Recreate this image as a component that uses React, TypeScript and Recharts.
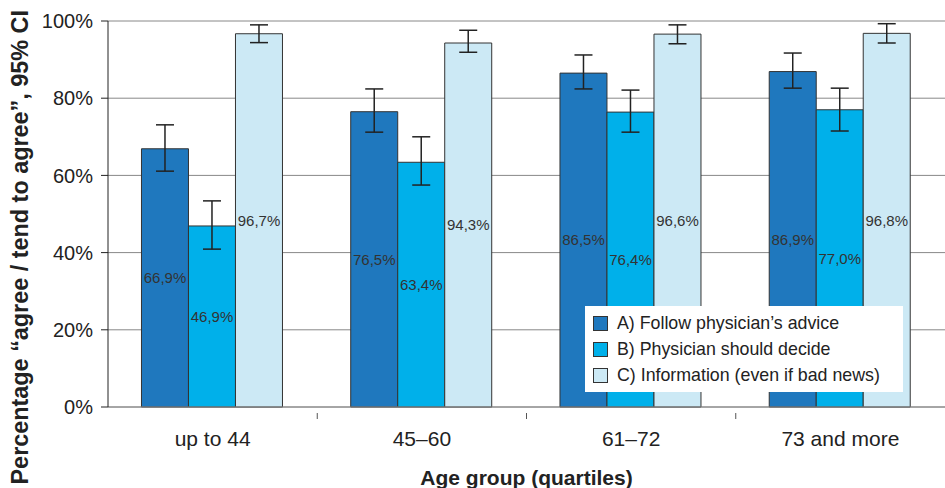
import {
  BarChart,
  Bar,
  XAxis,
  YAxis,
  CartesianGrid,
  ErrorBar,
  LabelList
} from 'recharts'

const categories = ['up to 44', '45–60', '61–72', '73 and more']

const followAdvice = [66.9, 76.5, 86.5, 86.9]
const followAdviceCI = [[5.8, 6.2], [5.3, 5.9], [4.1, 4.7], [4.3, 4.8]]

const physicianDecide = [46.9, 63.4, 76.4, 77.0]
const physicianDecideCI = [[6.0, 6.5], [5.9, 6.6], [5.2, 5.7], [5.5, 5.6]]

const information = [96.7, 94.3, 96.6, 96.8]
const informationCI = [[2.3, 2.3], [2.4, 3.3], [2.5, 2.4], [2.5, 2.5]]

const seriesNames = [
  'A) Follow physician’s advice',
  'B) Physician should decide',
  'C) Information (even if bad news)'
]
const COLORS = ['#1f78be', '#00b0ea', '#cce9f5']

const yTicks = [0, 20, 40, 60, 80, 100]

const data = categories.map((name, i) => ({
  name,
  a: followAdvice[i],
  aErr: followAdviceCI[i],
  b: physicianDecide[i],
  bErr: physicianDecideCI[i],
  c: information[i],
  cErr: informationCI[i]
}))

// values are printed with a decimal comma, as in the source
const formatPct = (v: number) => `${v.toFixed(1).replace('.', ',')}%`

const FONT = 'Arial, "Liberation Sans", sans-serif'

// legend sits inside the plot, so draw it as an overlay instead of <Legend>
const LegendBox = () => (
  <div
    style={{
      position: 'absolute',
      left: 585,
      top: 306,
      width: 318,
      height: 86,
      boxSizing: 'border-box',
      background: '#fff',
      padding: '4px 0 0 8px',
      fontFamily: FONT,
      fontSize: 17.8,
      color: '#222',
      lineHeight: '26px'
    }}
  >
    {seriesNames.map((n, i) => (
      <div key={n} style={{ display: 'flex', alignItems: 'center', whiteSpace: 'nowrap' }}>
        <span
          style={{
            display: 'inline-block',
            width: 13,
            height: 13,
            background: COLORS[i],
            border: '1px solid #333',
            marginRight: 9
          }}
        />
        {n}
      </div>
    ))}
  </div>
)

const YLabel = () => (
  <text
    x={20}
    y={10}
    transform="rotate(-90, 20, 10)"
    textAnchor="end"
    dominantBaseline="central"
    fontFamily={FONT}
    fontWeight="bold"
    fontSize={23.4}
    fill="#222"
  >
    Percentage “agree / tend to agree”, 95% CI
  </text>
)

// category label plus a short tick mark on the boundary to the next group
const CategoryTick = (props: any) => {
  const { x, y, payload } = props
  const last = payload.index === categories.length - 1
  return (
    <g>
      {!last && (
        <line
          x1={x + payload.offset}
          x2={x + payload.offset}
          y1={y - 20}
          y2={y - 14}
          stroke="#555"
        />
      )}
      <text
        x={x}
        y={y}
        dy={13}
        textAnchor="middle"
        fill="#222"
        fontSize={21}
        fontFamily={FONT}
      >
        {payload.value}
      </text>
    </g>
  )
}

export default function App() {
  const bars = [
    { key: 'a', err: 'aErr' },
    { key: 'b', err: 'bErr' },
    { key: 'c', err: 'cErr' }
  ]
  return (
    <div style={{ position: 'absolute', left: 0, top: 0, width: 945, height: 488, background: '#fff', overflow: 'hidden' }}>
      <BarChart
        width={945}
        height={488}
        data={data}
        margin={{ top: 21, right: 0, bottom: 0, left: 0 }}
        barGap={0}
        barCategoryGap="16%"
      >
        <CartesianGrid vertical={false} stroke="#888" strokeWidth={1} />
        <XAxis
          dataKey="name"
          height={81}
          axisLine={{ stroke: '#888' }}
          tickLine={false}
          tickMargin={20}
          tick={<CategoryTick />}
          label={{
            value: 'Age group (quartiles)',
            position: 'insideBottom',
            offset: 3,
            fill: '#222',
            fontSize: 21,
            fontWeight: 'bold',
            fontFamily: FONT
          }}
        />
        <YAxis
          width={108}
          domain={[0, 100]}
          ticks={yTicks}
          tickFormatter={(v: number) => `${v}%`}
          axisLine={{ stroke: '#222' }}
          tickLine={{ stroke: '#222' }}
          tickSize={7}
          tickMargin={8}
          tick={{ fill: '#222', fontSize: 20, fontFamily: FONT }}
          label={<YLabel />}
        />
        {bars.map((s, i) => (
          <Bar
            key={s.key}
            dataKey={s.key}
            name={seriesNames[i]}
            fill={COLORS[i]}
            stroke="#333"
            strokeWidth={1}
            isAnimationActive={false}
          >
            <ErrorBar dataKey={s.err} width={9} stroke="#222" strokeWidth={1.5} />
            <LabelList
              dataKey={s.key}
              position="center"
              formatter={(v: number) => formatPct(v)}
              fill="#333"
              fontSize={15}
              fontFamily={FONT}
            />
          </Bar>
        ))}
      </BarChart>
      <LegendBox />
    </div>
  )
}
